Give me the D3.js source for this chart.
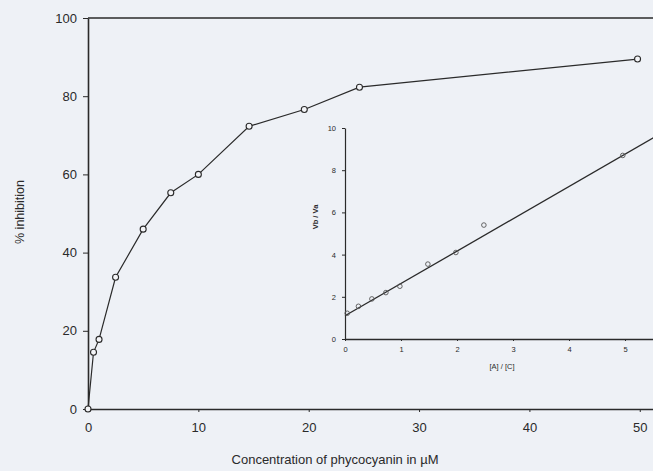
<!DOCTYPE html>
<html>
<head>
<meta charset="utf-8">
<script src="https://cdn.jsdelivr.net/npm/d3@7"></script>
<style>
  body { margin: 0; background: #eef1f6; }
  svg { display: block; }
  text { font-family: "Liberation Sans", Arial, sans-serif; fill: #2a2a2a; }
</style>
</head>
<body>
<div id="chart"></div>
<script>
// main curve: % inhibition vs concentration (uM)
var conc = [0, 0.5, 1, 2.5, 5, 7.5, 10, 14.6, 19.6, 24.6, 49.8];
var inhibition = [0, 14.5, 17.8, 33.7, 46, 55.3, 60, 72.3, 76.6, 82.3, 89.5];
var xTicks = [0, 10, 20, 30, 40, 50];
var yTicks = [0, 20, 40, 60, 80, 100];

// inset: Vb / Va vs [A] / [C]
var ratioAC = [0.04, 0.24, 0.48, 0.73, 0.98, 1.48, 1.98, 2.48, 4.96];
var ratioV = [1.22, 1.55, 1.9, 2.2, 2.5, 3.55, 4.1, 5.4, 8.7];
var fitX = [0, 5.55];
var fitY = [1.1, 9.6];
var insetXTicks = [0, 1, 2, 3, 4, 5];
var insetYTicks = [0, 2, 4, 6, 8, 10];

var W = 653, H = 471;
var ink = "#2a2a2a";

var svg = d3.select("#chart").append("svg")
    .attr("width", W)
    .attr("height", H);

// main scales
var x = d3.scaleLinear().domain([0, 51.2]).range([88, 653]);
var y = d3.scaleLinear().domain([0, 100]).range([409, 18]);

// top frame line
svg.append("line")
    .attr("x1", x(0)).attr("x2", W)
    .attr("y1", y(100)).attr("y2", y(100))
    .attr("stroke", ink).attr("stroke-width", 1.6);

// x axis
var gx = svg.append("g")
    .attr("transform", "translate(0," + y(0) + ")")
    .call(d3.axisBottom(x).tickValues(xTicks).tickSize(3).tickSizeOuter(0).tickPadding(11));
gx.select(".domain").attr("stroke", ink).attr("stroke-width", 1.6);
gx.selectAll(".tick line").attr("stroke", ink);
gx.selectAll("text").attr("font-size", 13).style("fill", ink);

// y axis
var gy = svg.append("g")
    .attr("transform", "translate(" + x(0) + ",0)")
    .call(d3.axisLeft(y).tickValues(yTicks).tickSize(5).tickSizeOuter(0).tickPadding(6));
gy.select(".domain").attr("stroke", ink).attr("stroke-width", 1.6);
gy.selectAll(".tick line").attr("stroke", ink);
gy.selectAll("text").attr("font-size", 13).style("fill", ink);

// axis titles
svg.append("text")
    .attr("x", 335).attr("y", 464)
    .attr("text-anchor", "middle")
    .attr("font-size", 13)
    .text("Concentration of phycocyanin in \u00b5M");

svg.append("text")
    .attr("transform", "translate(24,212) rotate(-90)")
    .attr("text-anchor", "middle")
    .attr("font-size", 12.5)
    .text("% inhibition");

// main data
var mainData = conc.map(function (d, i) { return { x: d, y: inhibition[i] }; });

var line = d3.line()
    .x(function (d) { return x(d.x); })
    .y(function (d) { return y(d.y); });

svg.append("path")
    .datum(mainData)
    .attr("d", line)
    .attr("fill", "none")
    .attr("stroke", ink)
    .attr("stroke-width", 1.2);

svg.selectAll(".pt")
    .data(mainData)
    .enter().append("circle")
    .attr("class", "pt")
    .attr("cx", function (d) { return x(d.x); })
    .attr("cy", function (d) { return y(d.y); })
    .attr("r", 3)
    .attr("fill", "#f4f5f8")
    .attr("stroke", ink)
    .attr("stroke-width", 1.1);

// inset scales
var ix = d3.scaleLinear().domain([0, 5.5]).range([345, 653]);
var iy = d3.scaleLinear().domain([0, 10]).range([339, 128]);

var gix = svg.append("g")
    .attr("transform", "translate(0," + iy(0) + ")")
    .call(d3.axisBottom(ix).tickValues(insetXTicks).tickFormat(d3.format("d"))
        .tickSize(2).tickSizeOuter(0).tickPadding(6));
gix.select(".domain").attr("stroke", ink).attr("stroke-width", 1.4);
gix.selectAll(".tick line").attr("stroke", ink);
gix.selectAll("text").attr("font-size", 7.5).style("fill", ink);

var giy = svg.append("g")
    .attr("transform", "translate(" + ix(0) + ",0)")
    .call(d3.axisLeft(iy).tickValues(insetYTicks).tickFormat(d3.format("d"))
        .tickSize(3).tickSizeOuter(0).tickPadding(6));
giy.select(".domain").attr("stroke", ink).attr("stroke-width", 1.2);
giy.selectAll(".tick line").attr("stroke", ink);
giy.selectAll("text").attr("font-size", 7.5).style("fill", ink);

svg.append("text")
    .attr("x", 502).attr("y", 369)
    .attr("text-anchor", "middle")
    .attr("font-size", 7.5)
    .text("[A] / [C]");

svg.append("text")
    .attr("transform", "translate(318,217) rotate(-90)")
    .attr("text-anchor", "middle")
    .attr("font-size", 7.5)
    .attr("font-weight", "bold")
    .text("Vb / Va");

// fitted line
var fitData = fitX.map(function (d, i) { return { x: d, y: fitY[i] }; });
svg.append("path")
    .datum(fitData)
    .attr("d", d3.line()
        .x(function (d) { return ix(d.x); })
        .y(function (d) { return iy(d.y); }))
    .attr("fill", "none")
    .attr("stroke", ink)
    .attr("stroke-width", 1.3);

var insetData = ratioAC.map(function (d, i) { return { x: d, y: ratioV[i] }; });
svg.selectAll(".ipt")
    .data(insetData)
    .enter().append("circle")
    .attr("class", "ipt")
    .attr("cx", function (d) { return ix(d.x); })
    .attr("cy", function (d) { return iy(d.y); })
    .attr("r", 2.3)
    .attr("fill", "none")
    .attr("stroke", "#555")
    .attr("stroke-width", 0.9);
</script>
</body>
</html>
